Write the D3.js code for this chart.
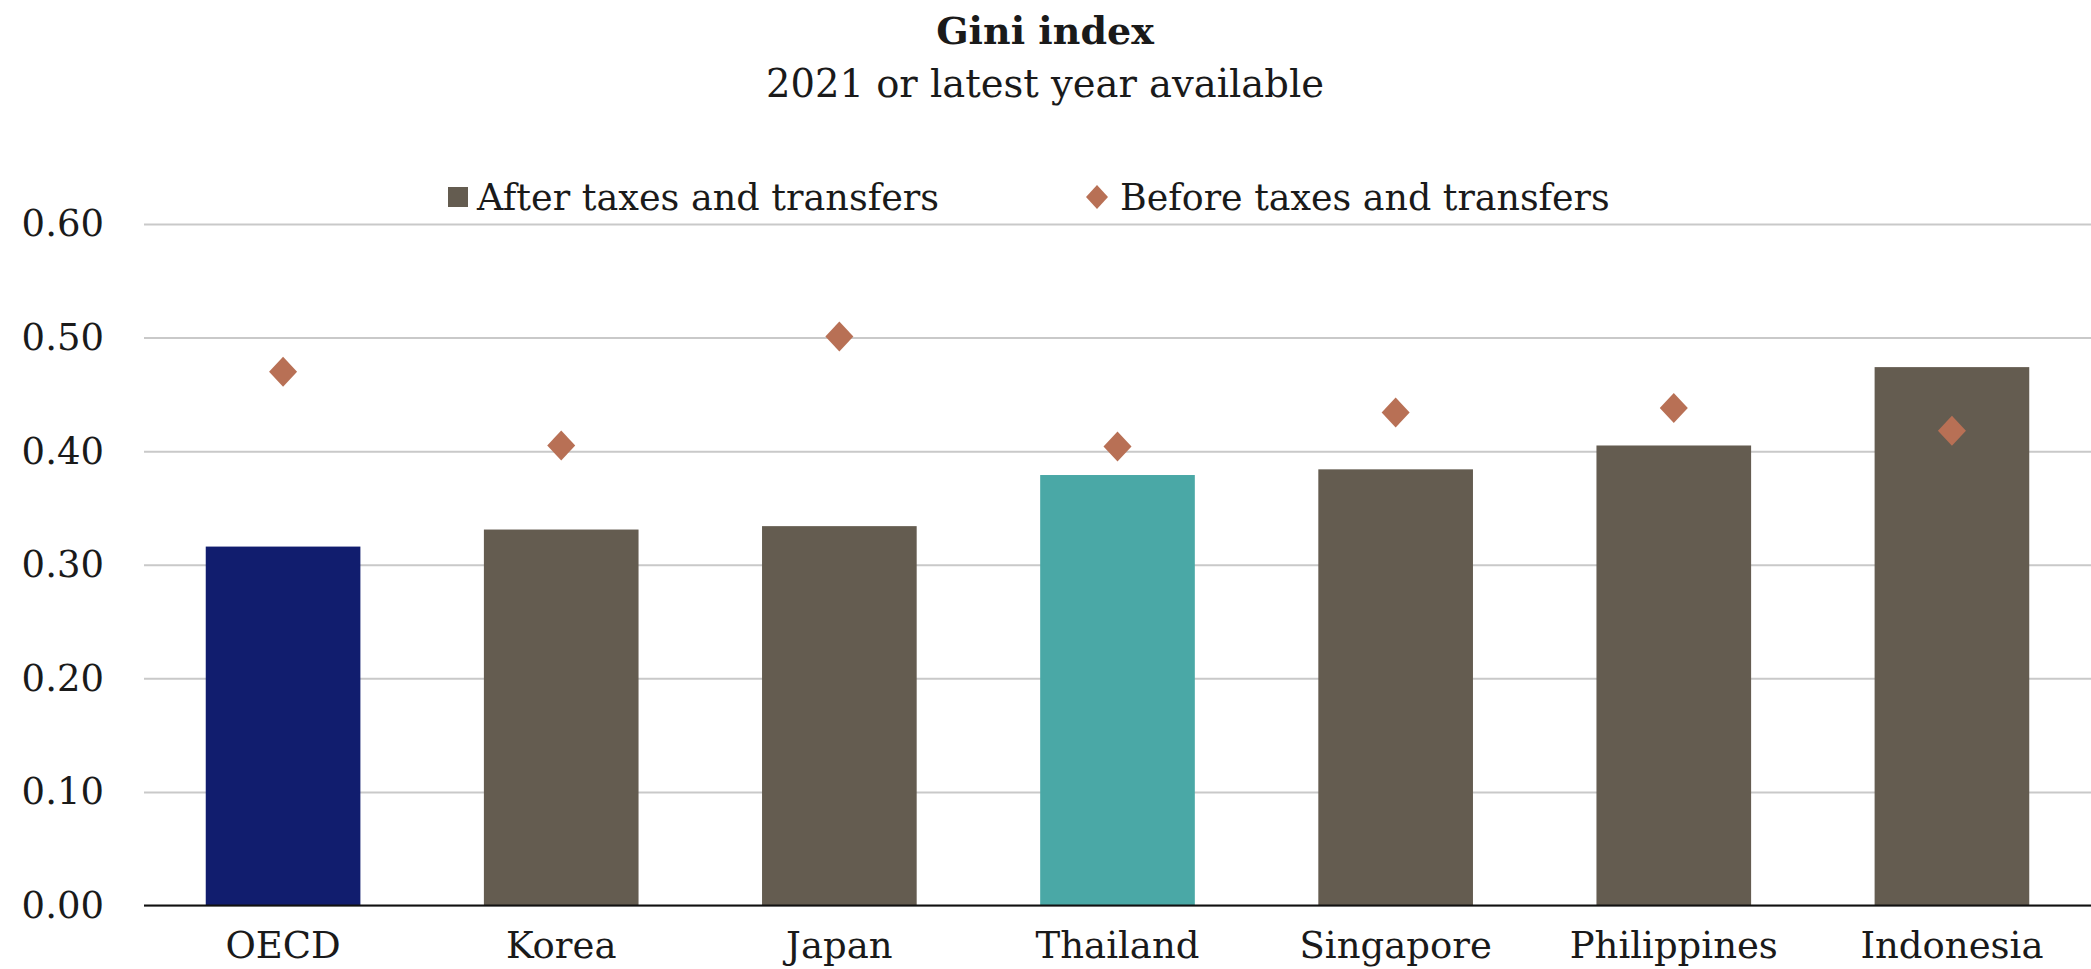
<!DOCTYPE html>
<html>
<head>
<meta charset="utf-8">
<script src="https://cdn.jsdelivr.net/npm/d3@7"></script>
<style>
  html, body { margin: 0; padding: 0; background: #ffffff; }
  svg { display: block; }
  text { font-family: "DejaVu Serif", "Liberation Serif", serif; fill: #1a1a1a; }
</style>
</head>
<body>
<svg id="chart" width="2091" height="969"></svg>
<script>
const categories = ["OECD", "Korea", "Japan", "Thailand", "Singapore", "Philippines", "Indonesia"];
const afterTaxes = [0.316, 0.331, 0.334, 0.379, 0.384, 0.405, 0.474];
const beforeTaxes = [0.470, 0.405, 0.501, 0.404, 0.434, 0.438, 0.418];
const yTicks = [0, 0.1, 0.2, 0.3, 0.4, 0.5, 0.6];
const seriesNames = ["After taxes and transfers", "Before taxes and transfers"];
const titleText = "Gini index";
const subtitleText = "2021 or latest year available";

const W = 2091, H = 969;
const plot = { left: 144, right: 2091, top: 224, bottom: 905.5 };
const colors = { oecd: "#111d6e", thai: "#4aa8a6", other: "#645c50", marker: "#b87055", grid: "#c9c9c9" };

const svg = d3.select("#chart");

const x = d3.scaleBand().domain(categories).range([plot.left, plot.right])
  .paddingInner(0.444).paddingOuter(0.222);
const y = d3.scaleLinear().domain([0, 0.6]).range([plot.bottom, plot.top]);

// gridlines + y labels
const yAxis = d3.axisLeft(y).tickValues(yTicks).tickFormat(d3.format(".2f"))
  .tickSize(-(plot.right - plot.left)).tickPadding(40);
const gy = svg.append("g").attr("transform", `translate(${plot.left},0)`).call(yAxis);
gy.select(".domain").remove();
gy.selectAll(".tick line").attr("stroke", colors.grid).attr("stroke-width", 2);
gy.selectAll(".tick text").attr("font-size", 37).attr("fill", "#1a1a1a")
  .style("font-family", "'DejaVu Serif', serif");

// bars
svg.append("g").selectAll("rect").data(categories).join("rect")
  .attr("x", d => x(d))
  .attr("width", x.bandwidth())
  .attr("y", (d, i) => y(afterTaxes[i]))
  .attr("height", (d, i) => y(0) - y(afterTaxes[i]))
  .attr("fill", d => d === "OECD" ? colors.oecd : d === "Thailand" ? colors.thai : colors.other);

// baseline
svg.append("line").attr("x1", plot.left).attr("x2", plot.right)
  .attr("y1", y(0)).attr("y2", y(0)).attr("stroke", "#111").attr("stroke-width", 2);

// diamonds
const dw = 14, dh = 15;
const diamond = `M0,${-dh}L${dw},0L0,${dh}L${-dw},0Z`;
svg.append("g").selectAll("path").data(categories).join("path")
  .attr("d", diamond)
  .attr("transform", (d, i) => `translate(${x(d) + x.bandwidth() / 2},${y(beforeTaxes[i])})`)
  .attr("fill", colors.marker);

// x labels
const xAxis = d3.axisBottom(x).tickSize(0).tickPadding(0);
const gx = svg.append("g").attr("transform", `translate(0,${plot.bottom})`).call(xAxis);
gx.select(".domain").remove();
gx.selectAll(".tick text").attr("dy", null).attr("y", 52).attr("font-size", 37).attr("fill", "#1a1a1a")
  .style("font-family", "'DejaVu Serif', serif");

// title
svg.append("text").attr("x", 1045).attr("y", 44).attr("text-anchor", "middle")
  .attr("font-size", 38).attr("font-weight", "bold").text(titleText);
svg.append("text").attr("x", 1045).attr("y", 97).attr("text-anchor", "middle")
  .attr("font-size", 38.5).text(subtitleText);

// legend
const leg = svg.append("g");
leg.append("rect").attr("x", 448).attr("y", 187).attr("width", 20).attr("height", 20).attr("fill", colors.other);
leg.append("text").attr("x", 477).attr("y", 210).attr("font-size", 36.6).text(seriesNames[0]);
leg.append("path").attr("d", `M0,-12L11,0L0,12L-11,0Z`).attr("transform", "translate(1097,197)").attr("fill", colors.marker);
leg.append("text").attr("x", 1120).attr("y", 210).attr("font-size", 36.4).text(seriesNames[1]);
</script>
</body>
</html>
